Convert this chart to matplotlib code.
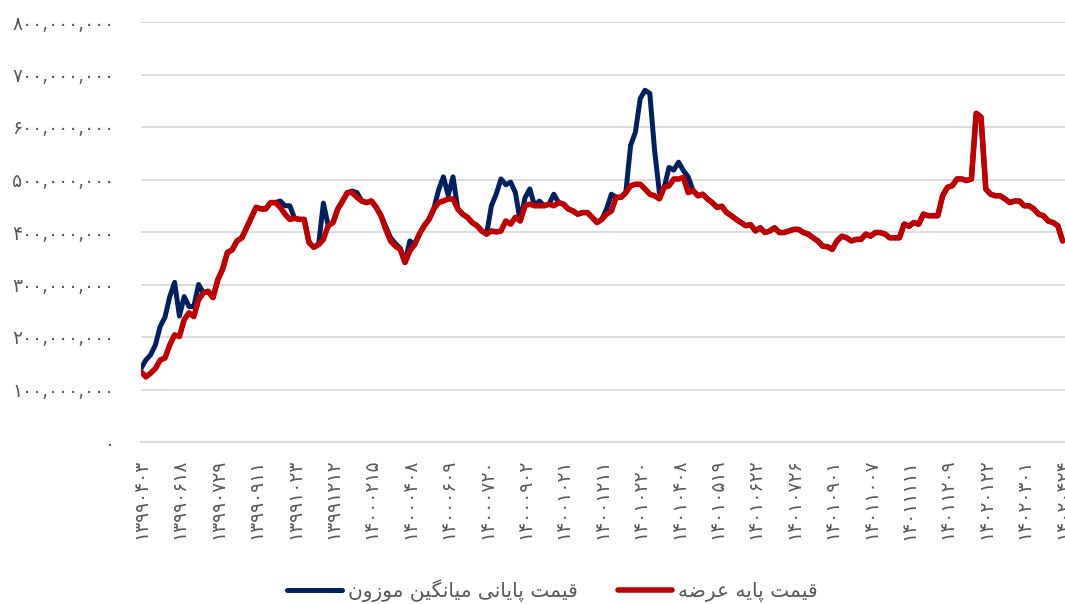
import numpy as np
import matplotlib
matplotlib.use("Agg")
import matplotlib.pyplot as plt
from matplotlib.ticker import FixedLocator, FuncFormatter

# values in million rials, one point per ~4.8 px of the reference
base_price = [
    134, 124, 131, 140, 156, 160, 185, 204, 201, 233, 246, 239, 271, 284, 287, 275,
    309, 329, 361, 366, 383, 389, 408, 428, 447, 444, 444, 456, 456, 447, 434, 424,
    426, 424, 424, 380, 371, 376, 386, 412, 418, 444, 459, 475, 475, 466, 459, 456,
    459, 447, 431, 405, 383, 373, 367, 342, 364, 376, 396, 412, 424, 444, 456, 459,
    463, 463, 444, 434, 428, 418, 412, 402, 396, 402, 400, 402, 421, 415, 428, 421,
    450, 453, 450, 450, 450, 453, 450, 456, 453, 444, 440, 434, 437, 437, 428, 418,
    424, 434, 440, 466, 466, 475, 488, 491, 491, 482, 472, 469, 463, 485, 488, 501,
    501, 504, 475, 479, 469, 472, 463, 456, 447, 449, 437, 431, 424, 418, 412, 414,
    402, 408, 399, 402, 408, 399, 399, 402, 405, 405, 399, 396, 389, 383, 373, 372,
    367, 383, 392, 389, 383, 386, 386, 396, 392, 399, 399, 396, 389, 389, 389, 415,
    411, 418, 415, 434, 431, 431, 431, 469, 485, 488, 501, 501, 498, 501, 626, 619,
    482, 472, 469, 469, 463, 456, 459, 459, 450, 450, 444, 434, 431, 421, 418, 412,
    383,
]

weighted_close = [
    140, 156, 166, 185, 220, 238, 277, 304, 240, 277, 258, 258, 300, 284, 287, 275,
    309, 329, 361, 366, 383, 389, 408, 428, 447, 444, 444, 456, 456, 459, 450, 450,
    426, 424, 424, 380, 371, 376, 455, 412, 418, 444, 459, 475, 478, 475, 459, 456,
    459, 447, 431, 410, 389, 378, 369, 342, 383, 376, 396, 412, 424, 444, 480, 505,
    470, 505, 444, 434, 428, 418, 412, 402, 396, 450, 472, 501, 490, 495, 475, 421,
    465, 482, 450, 459, 450, 453, 472, 456, 453, 444, 440, 434, 437, 437, 428, 418,
    424, 444, 472, 466, 466, 475, 565, 590, 654, 670, 664, 555, 475, 485, 523, 518,
    533, 517, 505, 479, 469, 472, 463, 456, 447, 449, 437, 431, 424, 418, 412, 414,
    402, 408, 399, 402, 408, 399, 399, 402, 405, 405, 399, 396, 389, 383, 373, 372,
    367, 383, 392, 389, 383, 386, 386, 396, 392, 399, 399, 396, 389, 389, 389, 415,
    411, 418, 415, 434, 431, 431, 431, 469, 485, 488, 501, 501, 498, 501, 626, 619,
    482, 472, 469, 469, 463, 456, 459, 459, 450, 450, 444, 434, 431, 421, 418, 412,
    383,
]

date_labels = [
    "13990403", "13990618", "13990729", "13990911", "13991023", "13991212",
    "14000215", "14000408", "14000609", "14000720", "14000902", "14001021",
    "14001211", "14010220", "14010408", "14010519", "14010622", "14010726",
    "14010901", "14011007", "14011111", "14011209", "14020122", "14020301",
    "14020424",
]
label_step = 8

name_close = "قیمت پایانی میانگین موزون"
name_base = "قیمت پایه عرضه"

FA_DIGITS = str.maketrans("0123456789", "۰۱۲۳۴۵۶۷۸۹")

# presentation forms: isolated, final, initial, medial (None -> right-joining only)
FORMS = {
    "ا": ("\uFE8D", "\uFE8E", None, None),
    "پ": ("\uFB56", "\uFB57", "\uFB58", "\uFB59"),
    "ت": ("\uFE95", "\uFE96", "\uFE97", "\uFE98"),
    "ر": ("\uFEAD", "\uFEAE", None, None),
    "ز": ("\uFEAF", "\uFEB0", None, None),
    "ض": ("\uFEBD", "\uFEBE", "\uFEBF", "\uFEC0"),
    "ع": ("\uFEC9", "\uFECA", "\uFECB", "\uFECC"),
    "ق": ("\uFED5", "\uFED6", "\uFED7", "\uFED8"),
    "گ": ("\uFB92", "\uFB93", "\uFB94", "\uFB95"),
    "م": ("\uFEE1", "\uFEE2", "\uFEE3", "\uFEE4"),
    "ن": ("\uFEE5", "\uFEE6", "\uFEE7", "\uFEE8"),
    "ه": ("\uFEE9", "\uFEEA", "\uFEEB", "\uFEEC"),
    "و": ("\uFEED", "\uFEEE", None, None),
    "ی": ("\uFBFC", "\uFBFD", "\uFBFE", "\uFBFF"),
}


def shape_fa(text):
    # minimal Persian shaping + reversal, matplotlib has no bidi support
    out = []
    for k, ch in enumerate(text):
        if ch not in FORMS:
            out.append(ch)
            continue
        prev = text[k - 1] if k > 0 else ""
        nxt = text[k + 1] if k + 1 < len(text) else ""
        join_prev = prev in FORMS and FORMS[prev][2] is not None
        join_next = FORMS[ch][2] is not None and nxt in FORMS
        iso, fin, ini, med = FORMS[ch]
        if join_prev and join_next:
            out.append(med)
        elif join_prev:
            out.append(fin)
        elif join_next:
            out.append(ini)
        else:
            out.append(iso)
    return "".join(reversed(out))


plt.rcParams["font.family"] = ["DejaVu Sans"]
grey = "#595959"

fig = plt.figure(figsize=(10.65, 6.04), dpi=100)
ax = fig.add_axes([141 / 1065, 1 - 442 / 604, 1 - 141 / 1065, 420 / 604])

x = np.arange(len(base_price))
ax.plot(x, weighted_close, color="#002060", lw=3.6, solid_joinstyle="round",
        solid_capstyle="round", label=shape_fa(name_close), zorder=3)
ax.plot(x, base_price, color="#C00000", lw=4.0, solid_joinstyle="round",
        solid_capstyle="round", label=shape_fa(name_base), zorder=4)

ax.set_xlim(0, (1065 - 141) / 4.8)
ax.set_ylim(0, 800)
ax.yaxis.set_major_locator(FixedLocator(np.arange(0, 801, 100)))
ax.yaxis.set_major_formatter(FuncFormatter(
    lambda v, p: f"{int(round(v * 1e6)):,}".translate(FA_DIGITS)))
ax.set_xticks(np.arange(len(date_labels)) * label_step)
ax.set_xticklabels([d.translate(FA_DIGITS) for d in date_labels], rotation=90)

ax.grid(axis="y", color="#D9D9D9", lw=1.3)
ax.set_axisbelow(True)
for s in ["top", "right", "left"]:
    ax.spines[s].set_visible(False)
ax.spines["bottom"].set_color("#D9D9D9")
ax.spines["bottom"].set_linewidth(1.3)
ax.tick_params(axis="y", length=0, pad=19, labelsize=13.5, labelcolor=grey)
ax.tick_params(axis="x", length=0, pad=12, labelsize=13.5, labelcolor=grey)

fig.legend(loc="center", bbox_to_anchor=(0.519, 1 - 591 / 604), ncol=2, frameon=False,
           fontsize=14.5, labelcolor=grey, handlelength=2.7, handletextpad=0.3,
           columnspacing=2.0)

fig.savefig("out.png", dpi=100)
